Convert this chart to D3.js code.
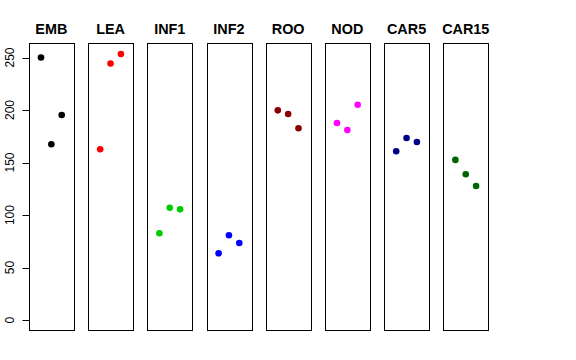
<!DOCTYPE html>
<html><head><meta charset="utf-8">
<script src="https://cdn.jsdelivr.net/npm/d3@7/dist/d3.min.js"></script>
<style>body{margin:0;background:#fff}svg{display:block}</style>
</head><body>
<script>
const categories = ["EMB","LEA","INF1","INF2","ROO","NOD","CAR5","CAR15"];
const colors = ["#000000","#FF0000","#00CD00","#0000FF","#8B0000","#FF00FF","#00008B","#006400"];
const rep1 = [250.0, 162.7, 82.6, 63.6, 199.7, 187.6, 160.8, 152.5];
const rep2 = [167.4, 244.3, 107.0, 80.7, 196.2, 181.0, 173.4, 138.9];
const rep3 = [195.2, 253.4, 105.4, 73.4, 182.6, 205.0, 169.6, 127.6];
const yTicks = [0, 50, 100, 150, 200, 250];

(function () {
const W = 576, H = 360;
const svg = d3.select("body").append("svg").attr("width", W).attr("height", H);
const font = "Liberation Sans, Arial, Helvetica, sans-serif";

const pTop = 43.3, pBottom = 330.7, panelW = 44.7, x0 = 29, step = 59.2;
const yMax = d3.max([...rep1, ...rep2, ...rep3]);
const y = d3.scaleLinear().domain([-0.04 * yMax, 1.04 * yMax]).range([pBottom, pTop]);

categories.forEach((cat, i) => {
  const left = x0 + i * step;
  const x = d3.scaleLinear().domain([-0.16, 4.16]).range([left, left + panelW]);
  const g = svg.append("g");
  const vals = [rep1[i], rep2[i], rep3[i]];
  g.selectAll("circle").data(vals).enter().append("circle")
    .attr("cx", (d, j) => x(j + 1)).attr("cy", d => y(d)).attr("r", 3.3)
    .attr("fill", colors[i]);
  g.append("rect").attr("x", Math.round(left) + 0.5).attr("y", Math.round(pTop) + 0.5)
    .attr("width", Math.round(panelW)).attr("height", Math.round(pBottom - pTop))
    .attr("fill", "none").attr("stroke", "#000").attr("stroke-width", 1);
  g.append("text").attr("x", left + panelW / 2).attr("y", 34)
    .attr("text-anchor", "middle").attr("font-family", font).attr("font-weight", "bold")
    .attr("font-size", 14.4).text(cat);
});

const axisX = Math.round(x0) + 0.5;
const ay = svg.append("g");
yTicks.forEach(t => {
  const yy = Math.round(y(t)) + 0.5;
  ay.append("line").attr("x1", axisX - 7).attr("x2", axisX).attr("y1", yy).attr("y2", yy)
    .attr("stroke", "#000");
  ay.append("text").attr("transform", `translate(14,${y(t)}) rotate(-90)`)
    .attr("text-anchor", "middle").attr("font-family", font).attr("font-size", 12)
    .text(t);
});
})();
</script>
</body></html>
